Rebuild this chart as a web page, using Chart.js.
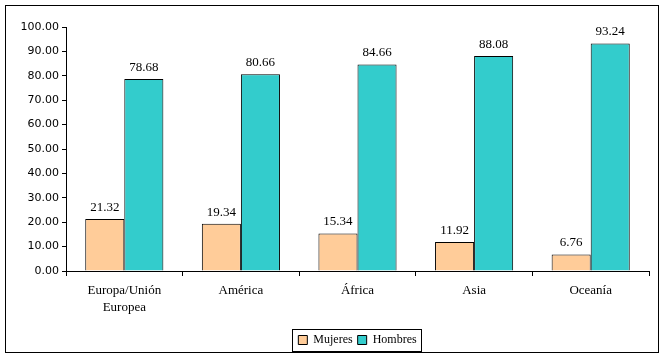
<!DOCTYPE html>
<html>
<head>
<meta charset="utf-8">
<script src="https://cdn.jsdelivr.net/npm/chart.js@4/dist/chart.umd.min.js"></script>
<style>
  html, body { margin: 0; padding: 0; background: #fff; }
  #wrap { width: 664px; height: 361px; }
</style>
</head>
<body>
<div id="wrap"><canvas id="grafico" width="664" height="361"></canvas></div>
<script>
const regiones = [['Europa/Unión', 'Europea'], 'América', 'África', 'Asia', 'Oceanía'];
const mujeres = [21.32, 19.34, 15.34, 11.92, 6.76];
const hombres = [78.68, 80.66, 84.66, 88.08, 93.24];
const serie = ['Mujeres', 'Hombres'];

const fuenteSerif = "'Liberation Serif', 'DejaVu Serif', serif";
const tamLeyenda = 12;

// marco exterior + caja de leyenda + etiquetas de valor
const extras = {
    id: 'extras',
    afterUpdate(chart) {
        // centrar la leyenda bajo el area de trazado
        const lg = chart.legend;
        lg.left = chart.chartArea.left;
        lg.right = chart.chartArea.right;
        lg.adjustHitBoxes();
    },
    afterDraw(chart) {
        const c = chart.ctx;
        c.save();
        c.strokeStyle = '#000';
        c.lineWidth = 1;
        c.strokeRect(5.5, 5.5, 653, 347);

        // caja alrededor de la leyenda
        const lg = chart.legend;
        const op = lg.options.labels;
        c.font = tamLeyenda + 'px ' + fuenteSerif;
        let ancho = 0;
        lg.legendItems.forEach((it, k) => {
            ancho += op.boxWidth + tamLeyenda / 2 + c.measureText(it.text).width;
            if (k > 0) ancho += op.padding;
        });
        const cx = (chart.chartArea.left + chart.chartArea.right) / 2 - 1;
        const izq = Math.round(cx - ancho / 2 - 5);
        const der = Math.round(cx + ancho / 2 + 5);
        const arr = Math.round(chart.chartArea.bottom + 58);
        c.strokeRect(izq + 0.5, arr + 0.5, der - izq, 22);

        c.fillStyle = '#000';
        c.font = '13px ' + fuenteSerif;
        c.textAlign = 'center';
        c.textBaseline = 'bottom';
        chart.data.datasets.forEach((ds, i) => {
            chart.getDatasetMeta(i).data.forEach((bar, j) => {
                c.fillText(ds.data[j].toFixed(2), bar.x, bar.y - 5);
            });
        });
        c.restore();
    }
};

new Chart(document.getElementById('grafico').getContext('2d'), {
    type: 'bar',
    data: {
        labels: regiones,
        datasets: [
            { label: serie[0], data: mujeres, backgroundColor: '#FFCC99', borderColor: '#000', borderWidth: 1 },
            { label: serie[1], data: hombres, backgroundColor: '#33CCCC', borderColor: '#000', borderWidth: 1 }
        ]
    },
    options: {
        responsive: false,
        animation: false,
        devicePixelRatio: 1,
        layout: { padding: { left: 5, right: 15, top: 27, bottom: 5 } },
        datasets: { bar: { categoryPercentage: 0.67, barPercentage: 1 } },
        scales: {
            y: {
                min: 0, max: 100,
                ticks: {
                    stepSize: 10, color: '#000', padding: 3,
                    font: { family: "'DejaVu Sans', sans-serif", size: 11 },
                    callback: v => v.toFixed(2)
                },
                grid: { drawOnChartArea: false, color: '#000', tickLength: 4 },
                border: { color: '#000', width: 1 },
                afterFit: s => { s.width = 61; }
            },
            x: {
                ticks: {
                    color: '#000', padding: 6,
                    font: { family: fuenteSerif, size: 13, lineHeight: 1.3 },
                    maxRotation: 0
                },
                grid: { drawOnChartArea: false, color: '#000', tickLength: 5, offset: true },
                border: { color: '#000', width: 1 },
                afterFit: s => { s.height = 58; }
            }
        },
        plugins: {
            legend: {
                position: 'bottom',
                labels: {
                    color: '#000', boxWidth: 9, boxHeight: 9, padding: 5,
                    font: { family: fuenteSerif, size: tamLeyenda }
                }
            },
            tooltip: { enabled: false }
        }
    },
    plugins: [extras]
});
</script>
</body>
</html>
